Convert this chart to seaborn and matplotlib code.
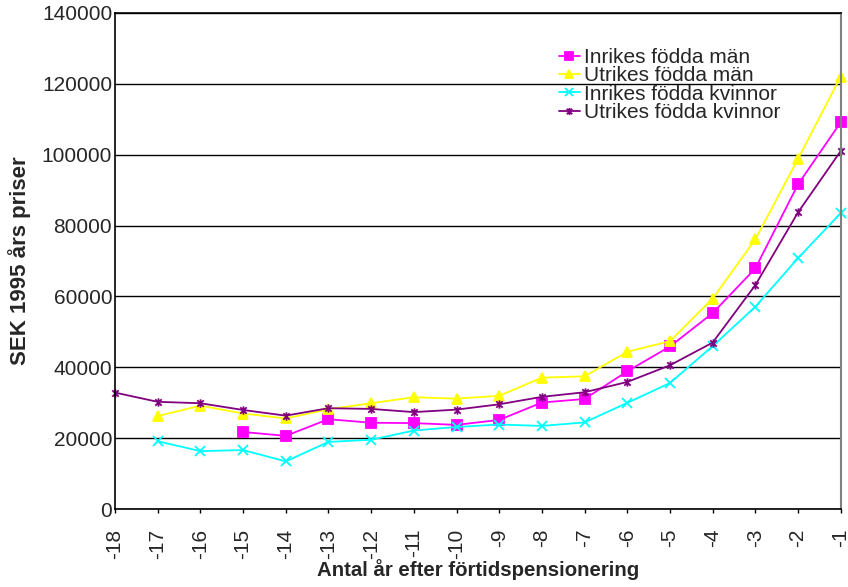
import numpy as np
import pandas as pd
import matplotlib
matplotlib.use("Agg")
import matplotlib.pyplot as plt
import seaborn as sns
from matplotlib.path import Path

years = list(range(-18, 0))
series_names = ["Inrikes födda män", "Utrikes födda män", "Inrikes födda kvinnor", "Utrikes födda kvinnor"]
nan = np.nan
inrikes_man = [nan, nan, nan, 21800, 20700, 25400, 24400, 24300, 23800, 25200,
               30100, 31100, 38900, 45900, 55300, 67900, 91600, 109100]
utrikes_man = [nan, 26300, 29200, 27000, 25600, 28200, 29900, 31600, 31200, 32000,
               37100, 37500, 44400, 47400, 59400, 76100, 98800, 122000]
inrikes_kvinnor = [nan, 19200, 16400, 16700, 13500, 19000, 19600, 22200, 23200, 23900,
                   23500, 24500, 30000, 35600, 46000, 57100, 70800, 83500]
utrikes_kvinnor = [32900, 30300, 29900, 28000, 26400, 28500, 28300, 27400, 28100, 29600,
                   31700, 33000, 35900, 40600, 47000, 63200, 83700, 101000]
y_ticks = [0, 20000, 40000, 60000, 80000, 100000, 120000, 140000]

rows = []
for name, vals in zip(series_names, [inrikes_man, utrikes_man, inrikes_kvinnor, utrikes_kvinnor]):
    for x, v in zip(years, vals):
        rows.append({"x": x, "y": v, "serie": name})
df = pd.DataFrame(rows).dropna()

sns.set_style("white")
plt.rcParams['font.family'] = ['Liberation Sans', 'DejaVu Sans']

fig = plt.figure(figsize=(8.48, 5.87), dpi=100)
W, H = 848, 587
ax = fig.add_axes([115 / W, 1 - 509.3 / H, (840.7 - 115) / W, (509.3 - 12.7) / H])

star = Path([(-1, -1), (1, 1), (-1, 1), (1, -1), (0, -1.3), (0, 1.3)],
            [Path.MOVETO, Path.LINETO, Path.MOVETO, Path.LINETO, Path.MOVETO, Path.LINETO])

colors = ["#FF00FF", "#FFFF00", "#00FFFF", "#800080"]
markers = ["s", "^", "x", star]
msizes = [7, 7, 7, 6]

for name, c, m, ms in zip(series_names, colors, markers, msizes):
    sub = df[df["serie"] == name]
    sns.lineplot(data=sub, x="x", y="y", color=c, marker=m, markersize=ms,
                 markeredgecolor=c, markerfacecolor=c, markeredgewidth=1.3,
                 linewidth=1.3, label=name, ax=ax)
for ln in ax.lines:
    ln.set_clip_on(False)

ax.set_xlim(-18, -1)
ax.set_ylim(0, 140000)
ax.set_xticks(years)
ax.set_xticklabels([str(v) for v in years], rotation=90, fontsize=15)
ax.set_yticks(y_ticks)
ax.set_yticklabels([str(v) for v in y_ticks], fontsize=15)
ax.tick_params(axis='x', length=3, width=1, color='black', direction='out', pad=11, bottom=True)
ax.tick_params(axis='y', length=0, pad=2)
ax.grid(axis='y', color='black', linewidth=1)
ax.grid(axis='x', visible=False)
ax.set_axisbelow(True)
for s in ['left', 'top', 'bottom']:
    ax.spines[s].set_color('black')
    ax.spines[s].set_linewidth(1.2)
ax.spines['right'].set_color('#808080')
ax.spines['right'].set_linewidth(1.5)

ax.set_xlabel("Antal år efter förtidspensionering", fontsize=14.7, fontweight='bold', labelpad=0)
ax.set_ylabel("SEK 1995 års priser", fontsize=16, fontweight='bold', labelpad=8)

handles, labels = ax.get_legend_handles_labels()
ax.legend(handles, labels, loc='upper left', bbox_to_anchor=(559 / W, 1 - 48 / H),
          bbox_transform=fig.transFigure, frameon=False, fontsize=15,
          borderpad=0, borderaxespad=0, labelspacing=-0.03, handlelength=1.0,
          handletextpad=0.2, markerscale=0.85)

fig.savefig("out.png", dpi=100)
